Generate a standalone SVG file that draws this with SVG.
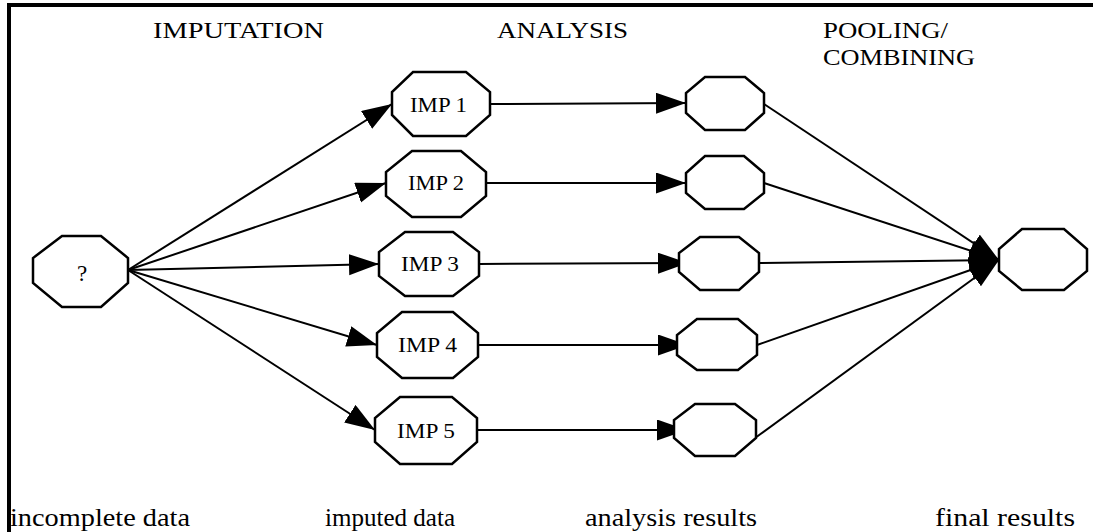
<svg xmlns="http://www.w3.org/2000/svg" width="1093" height="532" viewBox="0 0 1093 532">
  <style>
    .node { fill: #ffffff; stroke: #000000; stroke-width: 2.5; stroke-linejoin: miter; }
    .edge { fill: none; stroke: #000000; stroke-width: 2; }
    .lbl { font-family: "Liberation Serif", "Times New Roman", serif; fill: #000000; }
    .head { font-size: 23px; }
    .foot { font-size: 26px; }
    .inner { font-size: 20px; text-anchor: middle; }
  </style>
  <defs>
    <marker id="arrow" markerUnits="userSpaceOnUse" markerWidth="32" markerHeight="22" refX="30" refY="10.5" orient="auto">
      <path d="M0,0 L30,10.5 L0,21 z" fill="#000000"/>
    </marker>
  </defs>

  <rect x="0" y="0" width="1093" height="532" fill="#ffffff"/>

  <!-- frame: top and left rules only -->
  <g id="frame" stroke="#000000" stroke-width="4" fill="none">
    <line x1="7" y1="5" x2="1093" y2="5"/>
    <line x1="9" y1="3" x2="9" y2="532"/>
  </g>

  <!-- stage headings -->
  <g id="headings" class="lbl head">
    <text x="153" y="38" textLength="171" lengthAdjust="spacingAndGlyphs">IMPUTATION</text>
    <text x="497" y="38" textLength="131" lengthAdjust="spacingAndGlyphs">ANALYSIS</text>
    <text x="823" y="38" textLength="125" lengthAdjust="spacingAndGlyphs">POOLING/</text>
    <text x="823" y="65" textLength="152" lengthAdjust="spacingAndGlyphs">COMBINING</text>
  </g>

  <!-- connectors -->
  <g id="connectors" class="edge">
    <!-- incomplete data to each imputation -->
    <line x1="128" y1="270" x2="392" y2="104" marker-end="url(#arrow)"/>
    <line x1="128" y1="270" x2="386" y2="183" marker-end="url(#arrow)"/>
    <line x1="128" y1="270" x2="379" y2="264" marker-end="url(#arrow)"/>
    <line x1="128" y1="270" x2="377" y2="345" marker-end="url(#arrow)"/>
    <line x1="128" y1="270" x2="375" y2="430" marker-end="url(#arrow)"/>
    <!-- imputation to analysis -->
    <line x1="490" y1="104" x2="686" y2="103" marker-end="url(#arrow)"/>
    <line x1="475" y1="183" x2="686" y2="183" marker-end="url(#arrow)"/>
    <line x1="479" y1="264" x2="688" y2="263" marker-end="url(#arrow)"/>
    <line x1="478" y1="345" x2="688" y2="345" marker-end="url(#arrow)"/>
    <line x1="477" y1="430" x2="687" y2="430" marker-end="url(#arrow)"/>
    <!-- analysis to pooled result -->
    <line x1="764" y1="104" x2="999" y2="260" marker-end="url(#arrow)"/>
    <line x1="764" y1="183" x2="999" y2="260" marker-end="url(#arrow)"/>
    <line x1="759" y1="263" x2="999" y2="260" marker-end="url(#arrow)"/>
    <line x1="757" y1="345" x2="999" y2="260" marker-end="url(#arrow)"/>
    <line x1="755" y1="438" x2="999" y2="260" marker-end="url(#arrow)"/>
  </g>

  <!-- source node -->
  <g id="node-incomplete">
    <polygon class="node" points="62,236 101,236 128,258 128,283 101,307 62,307 33,283 33,258"/>
    <text class="lbl inner" x="82" y="281" style="font-size:23px">?</text>
  </g>

  <!-- imputed data sets -->
  <g id="node-imp1">
    <polygon class="node" points="413,72 466,72 490,92 490,115 466,136 413,136 392,115 392,92"/>
    <text class="lbl inner" x="438.5" y="112" textLength="57" lengthAdjust="spacingAndGlyphs">IMP 1</text>
  </g>
  <g id="node-imp2">
    <polygon class="node" points="412,151 461,151 486,172 486,196 461,217 412,217 386,196 386,172"/>
    <text class="lbl inner" x="436" y="190" textLength="56" lengthAdjust="spacingAndGlyphs">IMP 2</text>
  </g>
  <g id="node-imp3">
    <polygon class="node" points="405,232 453,232 479,252 479,276 453,296 405,296 379,276 379,252"/>
    <text class="lbl inner" x="430" y="271" textLength="58" lengthAdjust="spacingAndGlyphs">IMP 3</text>
  </g>
  <g id="node-imp4">
    <polygon class="node" points="402,312 453,312 478,333 478,357 453,378 402,378 377,357 377,333"/>
    <text class="lbl inner" x="427.5" y="352" textLength="59" lengthAdjust="spacingAndGlyphs">IMP 4</text>
  </g>
  <g id="node-imp5">
    <polygon class="node" points="400,397 452,397 477,418 477,442 452,464 400,464 375,442 375,418"/>
    <text class="lbl inner" x="426" y="438" textLength="58" lengthAdjust="spacingAndGlyphs">IMP 5</text>
  </g>

  <!-- analysis results -->
  <g id="node-res1">
    <polygon class="node" points="705,77 745,77 764,93 764,113 745,130 705,130 686,113 686,93"/>
  </g>
  <g id="node-res2">
    <polygon class="node" points="705,156 744,156 764,173 764,193 744,209 705,209 686,193 686,173"/>
  </g>
  <g id="node-res3">
    <polygon class="node" points="700,237 739,237 759,253 759,272 739,290 700,290 679,272 679,253"/>
  </g>
  <g id="node-res4">
    <polygon class="node" points="697,319 738,319 757,335 757,355 738,370 697,370 677,355 677,335"/>
  </g>
  <g id="node-res5">
    <polygon class="node" points="695,404 735,404 756,420 756,438 735,456 695,456 674,438 674,420"/>
  </g>

  <!-- pooled result -->
  <g id="node-final">
    <polygon class="node" points="1022,229 1064,229 1087,249 1087,271 1064,290 1022,290 999,271 999,249"/>
  </g>

  <!-- stage captions -->
  <g id="captions" class="lbl foot">
    <text x="10" y="526" textLength="180" lengthAdjust="spacingAndGlyphs">incomplete data</text>
    <text x="325" y="526" textLength="130" lengthAdjust="spacingAndGlyphs">imputed data</text>
    <text x="585" y="526" textLength="172" lengthAdjust="spacingAndGlyphs">analysis results</text>
    <text x="935" y="526" textLength="140" lengthAdjust="spacingAndGlyphs">final results</text>
  </g>
</svg>
